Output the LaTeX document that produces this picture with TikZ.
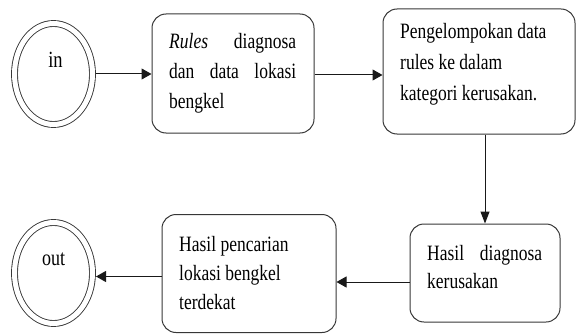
\documentclass[tikz,border=0pt]{standalone}
\usepackage{fontspec}
\setmainfont{Liberation Serif}
\usepackage{graphicx}
\usetikzlibrary{shapes.geometric,arrows.meta}
\newcommand{\vstretch}[1]{\scalebox{1}[1.25]{#1}}
\definecolor{boxline}{RGB}{55,55,55}
\definecolor{arrline}{RGB}{25,25,25}
\tikzset{
  stepbox/.style={draw=boxline, line width=1pt, rounded corners=14pt, rectangle, inner sep=0pt},
  endstate/.style={ellipse, draw=boxline, line width=0.9pt, double, double distance=5pt,
    minimum width=78pt, minimum height=101pt, inner sep=0pt, outer sep=3.5pt},
  txt/.style={anchor=base west, inner sep=0pt},
  ctxt/.style={anchor=base, inner sep=0pt},
  arrH/.style={draw=arrline, line width=1pt, -{Triangle[length=10pt,width=11pt]}},
  arrV/.style={draw=arrline, line width=1pt, -{Triangle[length=12pt,width=9pt]}}
}
\begin{document}
\begin{tikzpicture}[x=1pt,y=-1pt]
\useasboundingbox (0,0) rectangle (577,334);
% states and boxes
\node[endstate] (in) at (53.5,74) {};
\node[endstate] (out) at (53.5,273) {};
\node[stepbox, minimum width=162pt, minimum height=119pt] (b1) at (233,73.5) {};
\node[stepbox, minimum width=192pt, minimum height=125pt] (b2) at (479,71.5) {};
\node[stepbox, minimum width=174pt, minimum height=118pt] (b3) at (249,273.5) {};
\node[stepbox, minimum width=150pt, minimum height=98pt] (b4) at (485,273) {};
% texts
\node[ctxt] (tin) at (55.5,68) {\vstretch{\fontsize{18.5}{22}\selectfont in}};
\node[ctxt] (tout) at (53.5,265) {\vstretch{\fontsize{18}{22}\selectfont out}};
\node[txt] (t1) at (169,49) {\vstretch{\parbox[t]{127pt}{\fontsize{17.5}{23.6}\selectfont
  \textit{Rules} diagnosa\linebreak dan data lokasi\linebreak bengkel}}};
\node[txt] (t2) at (400,39) {\vstretch{\parbox[t]{172pt}{\fontsize{17.5}{24.8}\selectfont\raggedright
  Pengelompokan data\\ rules ke dalam\\ kategori kerusakan.}}};
\node[txt] (t3) at (179,251) {\vstretch{\parbox[t]{150pt}{\fontsize{17.5}{23.2}\selectfont\raggedright
  Hasil pencarian\\ lokasi bengkel\\ terdekat}}};
\node[txt] (t4) at (427,260) {\vstretch{\parbox[t]{115pt}{\fontsize{17.5}{22.4}\selectfont
  Hasil diagnosa\linebreak kerusakan}}};
% connectors
\draw[arrH] (in.east) -- (in.east -| b1.west);
\draw[arrH] ([yshift=-1.5pt]b1.east) -- ([yshift=-1.5pt]b1.east -| b2.west);
\draw[arrV] (b2.south -| b4.north) -- (b4.north);
\draw[arrH] ([yshift=-9pt]b4.west) -- ([yshift=-9pt]b4.west -| b3.east);
\draw[arrH] ([yshift=-3pt]b3.west) -- ([yshift=-3pt]b3.west -| out.east);
\end{tikzpicture}
\end{document}
